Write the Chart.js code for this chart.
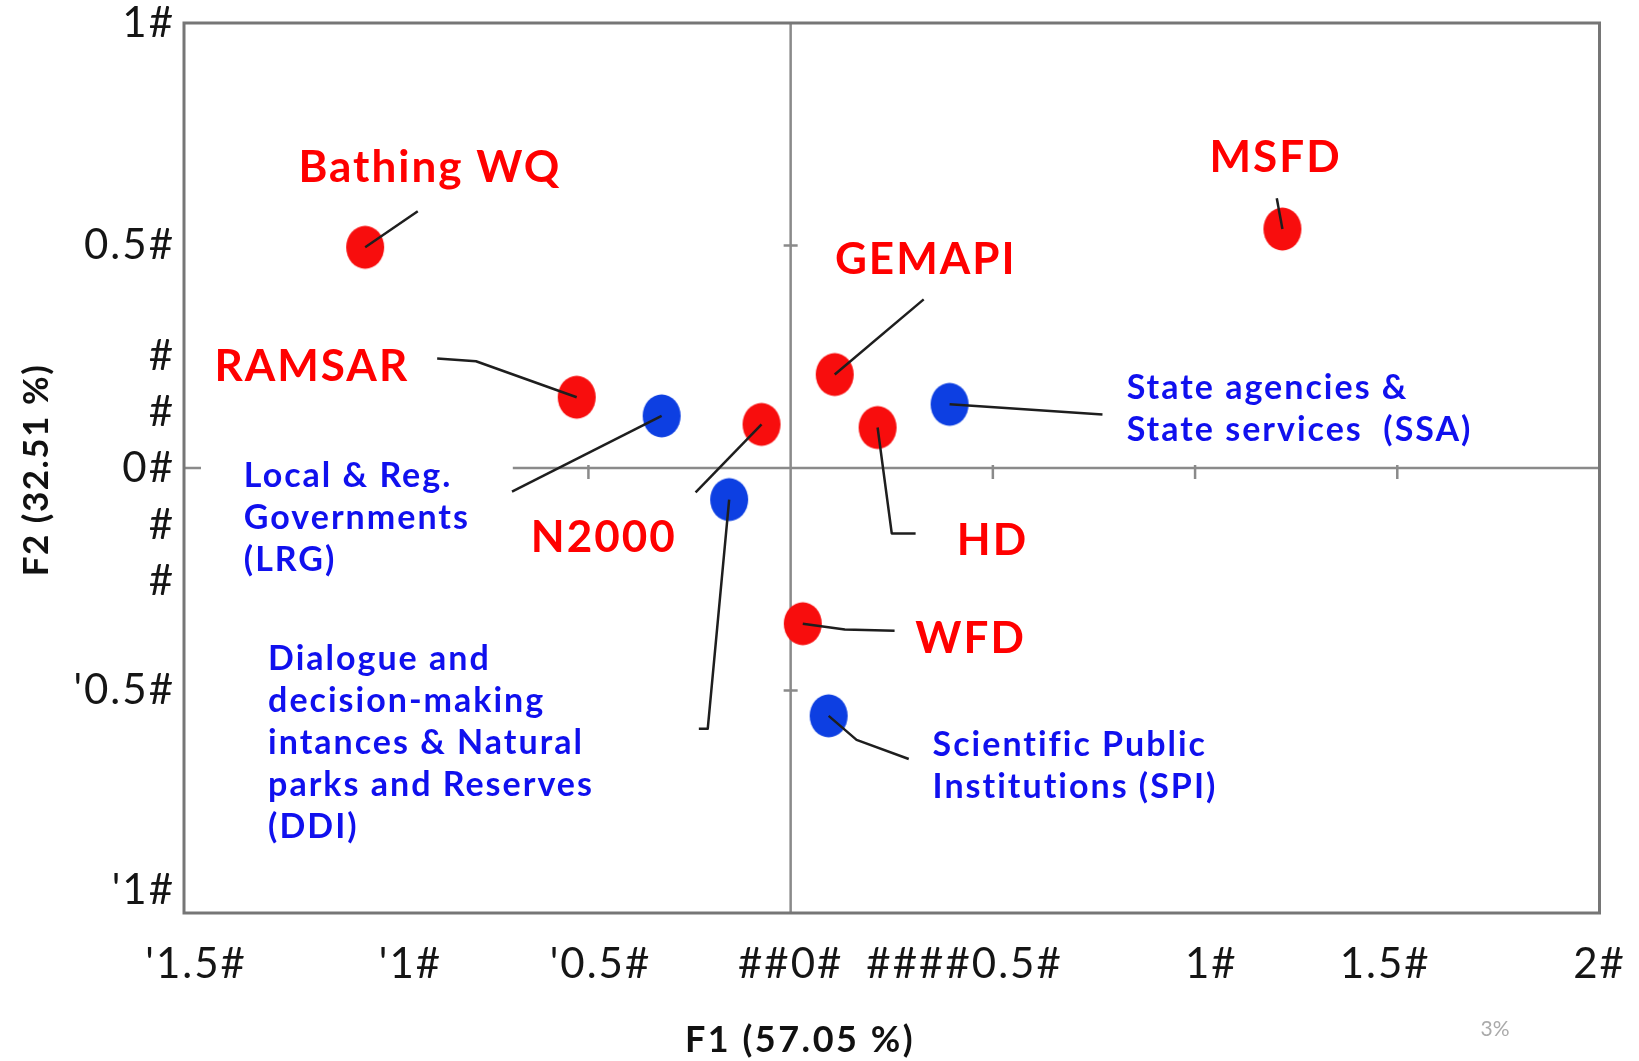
<!DOCTYPE html>
<html>
<head>
<meta charset="utf-8">
<script src="https://cdn.jsdelivr.net/npm/chart.js@4.4.1/dist/chart.umd.min.js"></script>
<style>
  html, body { margin: 0; padding: 0; background: #fff; }
  #wrap { width: 1639px; height: 1061px; }
</style>
</head>
<body>
<div id="wrap"><canvas id="c" width="1639" height="1061"></canvas></div>
<script>
// === values ===
const redNames = ['Bathing WQ', 'MSFD', 'GEMAPI', 'RAMSAR', 'N2000', 'HD', 'WFD'];
const redF1 = [-1.052, 1.216, 0.109, -0.529, -0.072, 0.215, 0.030];
const redF2 = [0.496, 0.537, 0.210, 0.159, 0.098, 0.091, -0.350];

const blueNames = ['LRG', 'DDI', 'SSA', 'SPI'];
const blueF1 = [-0.319, -0.152, 0.393, 0.094];
const blueF2 = [0.117, -0.071, 0.143, -0.557];

// tick labels as printed (garbled) in the source, and where they sit
const xTickVals = [-1.47, -0.94, -0.47, 0, 0.43, 1.04, 1.47, 2];
const xTickText = ["'1.5#", "'1#", "'0.5#", "##0#", "####0.5#", "1#", "1.5#", "2#"];
const yTickVals = [1, 0.5, 0.25, 0.125, 0, -0.13, -0.255, -0.5, -0.95];
const yTickText = ['1#', '0.5#', '#', '#', '0#', '#', '#', "'0.5#", "'1#"];

const xTitle = 'F1 (57.05 %)';
const yTitle = 'F2 (32.51 %)';

// annotation text + leader lines (in data units), one per point
const redLabels = [
    { lines: ['Bathing WQ'], at: [-0.892, 0.674], path: [[-0.922, 0.577]] },
    { lines: ['MSFD'], at: [1.199, 0.696], path: [[1.202, 0.606]] },
    { lines: ['GEMAPI'], at: [0.334, 0.467], path: [[0.329, 0.379]] },
    { lines: ['RAMSAR'], at: [-1.184, 0.228], path: [[-0.778, 0.240], [-0.874, 0.246]] },
    { lines: ['N2000'], at: [-0.462, -0.156], path: [[-0.235, -0.055]] },
    { lines: ['HD'], at: [0.499, -0.163], path: [[0.250, -0.147], [0.309, -0.147]] },
    { lines: ['WFD'], at: [0.445, -0.384], path: [[0.134, -0.363], [0.257, -0.366]] }
];
const blueLabels = [
    { lines: ['Local & Reg.', 'Governments', '(LRG)'], at: [-1.352, -0.017], path: [[-0.689, -0.053]], gap: [-1.458, -0.687] },
    { lines: ['Dialogue and', 'decision-making', 'intances & Natural', 'parks and Reserves', '(DDI)'], at: [-1.292, -0.429], path: [[-0.205, -0.586], [-0.227, -0.586]] },
    { lines: ['State agencies &', 'State services  (SSA)'], at: [0.831, 0.179], path: [[0.771, 0.120]] },
    { lines: ['Scientific Public', 'Institutions (SPI)'], at: [0.351, -0.622], path: [[0.163, -0.611], [0.292, -0.654]] }
];

const RED = '#f80d0d', BLUE = '#0d3fe2';
const RED_TXT = '#ff0000', BLUE_TXT = '#1010ee';

function makeDot(color) {
    const cv = document.createElement('canvas');
    cv.width = 42; cv.height = 46;
    const g = cv.getContext('2d');
    g.fillStyle = color;
    g.beginPath();
    g.ellipse(21, 23, 19, 21.5, 0, 0, Math.PI * 2);
    g.fill();
    return cv;
}

const biplotDecor = {
    id: 'biplotDecor',
    beforeDraw(chart) {
        // source text is set wide; tick labels pick this up
        chart.ctx.letterSpacing = '2px';
    },
    beforeDatasetsDraw(chart) {
        const { ctx, chartArea: a, scales: { x, y } } = chart;
        ctx.letterSpacing = '0px';
        const x0 = x.getPixelForValue(0), y0 = y.getPixelForValue(0);
        ctx.save();
        // zero axes
        ctx.strokeStyle = '#8a8a8a';
        ctx.lineWidth = 2.5;
        ctx.beginPath();
        ctx.moveTo(x0, a.top); ctx.lineTo(x0, a.bottom);
        ctx.moveTo(a.left, y0); ctx.lineTo(a.right, y0);
        [-1, -0.5, 0.5, 1, 1.5].forEach(v => {
            const p = x.getPixelForValue(v);
            ctx.moveTo(p, y0 - 3); ctx.lineTo(p, y0 + 11);
        });
        [0.5, -0.5].forEach(v => {
            const p = y.getPixelForValue(v);
            ctx.moveTo(x0 - 7, p); ctx.lineTo(x0 + 7, p);
        });
        ctx.stroke();
        // white label boxes hiding the axis
        blueLabels.concat(redLabels).forEach(l => {
            if (!l.gap) return;
            const p1 = x.getPixelForValue(l.gap[0]), p2 = x.getPixelForValue(l.gap[1]);
            ctx.fillStyle = '#fff';
            ctx.fillRect(p1, y0 - 14, p2 - p1, 28);
        });
        // frame
        ctx.strokeStyle = '#767676';
        ctx.lineWidth = 3;
        ctx.strokeRect(a.left, a.top, a.right - a.left, a.bottom - a.top);
        ctx.restore();
    },
    afterDatasetsDraw(chart) {
        const { ctx, scales: { x, y } } = chart;
        const px = v => x.getPixelForValue(v), py = v => y.getPixelForValue(v);
        ctx.save();
        // leader lines
        const leaders = (labels, xs, ys) => labels.forEach((l, i) => {
            ctx.beginPath();
            ctx.moveTo(px(xs[i]), py(ys[i]));
            l.path.forEach(p => ctx.lineTo(px(p[0]), py(p[1])));
            ctx.stroke();
        });
        ctx.strokeStyle = '#1e1e1e';
        ctx.lineWidth = 2.5;
        ctx.lineJoin = 'round';
        leaders(redLabels, redF1, redF2);
        leaders(blueLabels, blueF1, blueF2);

        // label texts
        ctx.textBaseline = 'middle';
        ctx.fillStyle = RED_TXT;
        ctx.textAlign = 'center';
        ctx.font = 'bold 44px Lato';
        ctx.letterSpacing = '2px';
        redLabels.forEach(l => ctx.fillText(l.lines[0], px(l.at[0]), py(l.at[1])));
        ctx.fillStyle = BLUE_TXT;
        ctx.textAlign = 'left';
        ctx.font = 'bold 34px Lato';
        ctx.letterSpacing = '2px';
        blueLabels.forEach(l => l.lines.forEach((t, k) => ctx.fillText(t, px(l.at[0]), py(l.at[1]) + k * 42)));

        // axis titles
        ctx.fillStyle = '#111';
        ctx.font = 'bold 36px Lato';
        ctx.letterSpacing = '2.5px';
        ctx.textAlign = 'center';
        ctx.fillText(xTitle, 800, 1040);
        ctx.save();
        ctx.translate(37, 470);
        ctx.rotate(-Math.PI / 2);
        ctx.font = 'bold 35px Lato';
        ctx.letterSpacing = '1.5px';
        ctx.fillText(yTitle, 0, 0);
        ctx.restore();

        ctx.fillStyle = '#aaa';
        ctx.font = '21px Lato';
        ctx.letterSpacing = '0px';
        ctx.fillText('3%', 1495, 1029);
        ctx.restore();
    }
};

new Chart(document.getElementById('c'), {
    type: 'scatter',
    data: {
        datasets: [
            {
                label: 'Policies',
                data: redF1.map((v, i) => ({ x: v, y: redF2[i] })),
                pointStyle: makeDot(RED),
                pointRadius: 19
            },
            {
                label: 'Actors',
                data: blueF1.map((v, i) => ({ x: v, y: blueF2[i] })),
                pointStyle: makeDot(BLUE),
                pointRadius: 19
            }
        ]
    },
    options: {
        responsive: false,
        animation: false,
        layout: { padding: { left: 0, top: 23, right: 39.5, bottom: 0 } },
        plugins: { legend: { display: false }, tooltip: { enabled: false } },
        scales: {
            x: {
                type: 'linear', min: -1.5, max: 2,
                afterBuildTicks: s => { s.ticks = xTickVals.map(v => ({ value: v })); },
                afterFit: s => { s.height = 148; s.paddingLeft = 0; s.paddingRight = 0; },
                grid: { display: false, drawTicks: false },
                border: { display: false },
                ticks: {
                    autoSkip: false, maxRotation: 0, padding: 30, color: '#151515',
                    font: { family: 'Lato', size: 42, lineHeight: 1 },
                    callback: (v, i) => xTickText[i]
                }
            },
            y: {
                type: 'linear', min: -1, max: 1,
                afterBuildTicks: s => { s.ticks = yTickVals.map(v => ({ value: v })); },
                afterFit: s => { s.width = 184; s.paddingTop = 0; s.paddingBottom = 0; },
                grid: { display: false, drawTicks: false },
                border: { display: false },
                ticks: {
                    autoSkip: false, padding: 9, color: '#151515',
                    font: { family: 'Lato', size: 42, lineHeight: 1 },
                    callback: (v, i) => yTickText[i]
                }
            }
        }
    },
    plugins: [biplotDecor]
});
</script>
</body>
</html>
